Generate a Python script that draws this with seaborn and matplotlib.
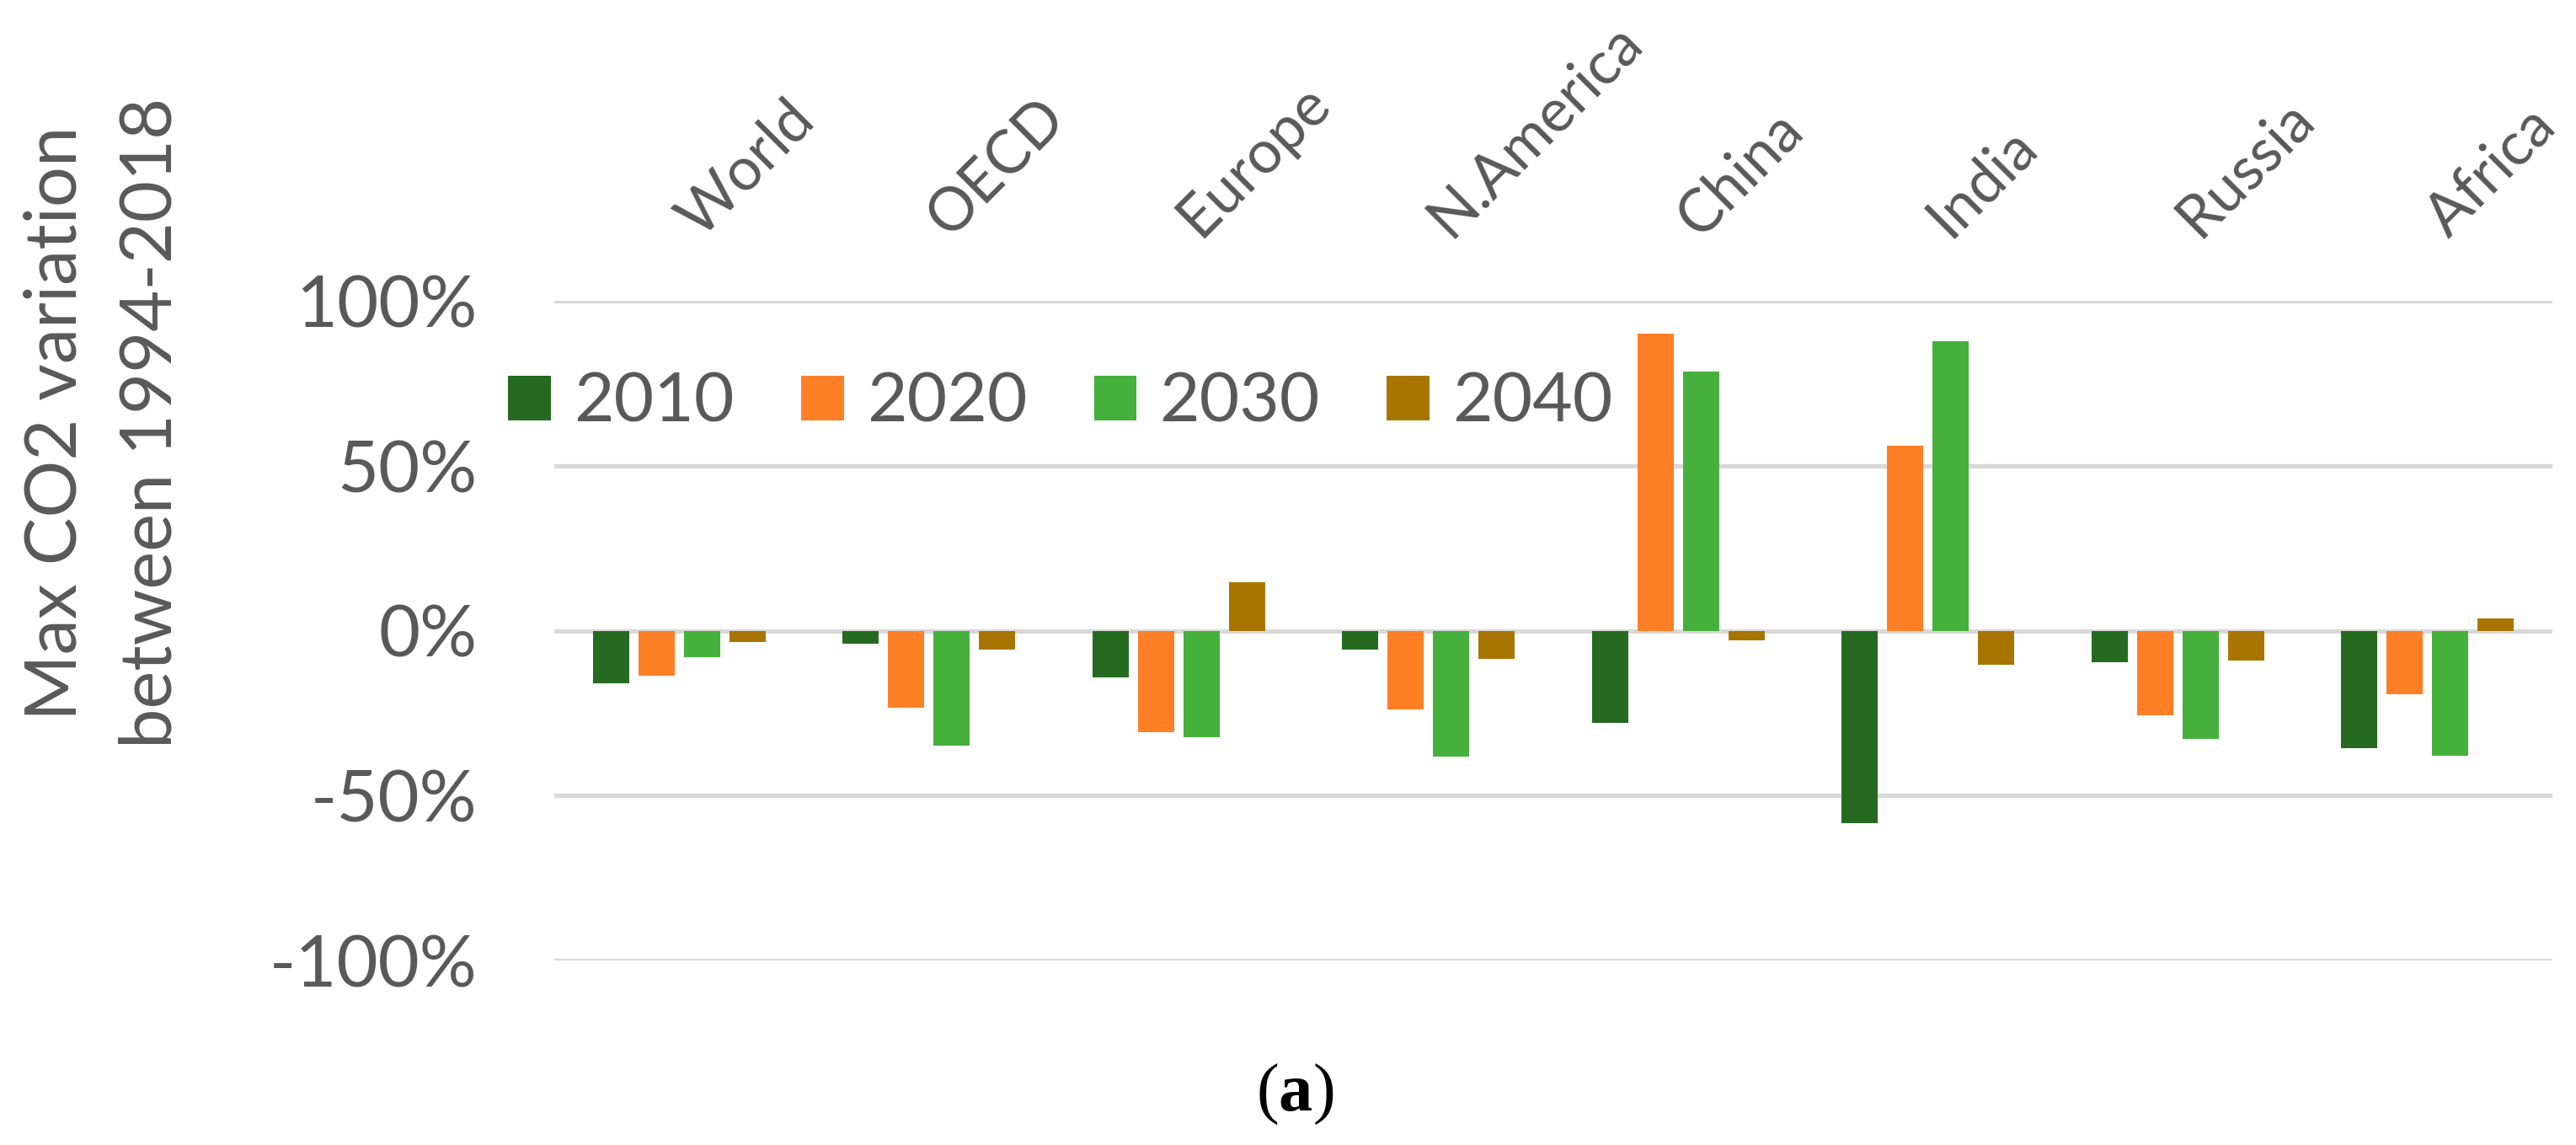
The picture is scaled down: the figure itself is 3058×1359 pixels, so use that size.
import pandas as pd
import seaborn as sns
import matplotlib.pyplot as plt

# data (fraction of 1994-2018 variation)
regions = ['World', 'OECD', 'Europe', 'N.America', 'China', 'India', 'Russia', 'Africa']
years = ['2010', '2020', '2030', '2040']
v2010 = [-0.160, -0.040, -0.143, -0.057, -0.280, -0.584, -0.097, -0.357]
v2020 = [-0.137, -0.234, -0.308, -0.240, 0.900, 0.560, -0.257, -0.194]
v2030 = [-0.080, -0.348, -0.322, -0.382, 0.785, 0.878, -0.328, -0.379]
v2040 = [-0.034, -0.057, 0.148, -0.086, -0.029, -0.103, -0.091, 0.037]
yticks = [-1.0, -0.5, 0.0, 0.5, 1.0]
ytick_labels = ['-100%', '-50%', '0%', '50%', '100%']
colors = ['#266A22', '#FF7F27', '#46B03C', '#A87600']

rows = []
for yr, vals in zip(years, [v2010, v2020, v2030, v2040]):
    for r, v in zip(regions, vals):
        rows.append({'region': r, 'year': yr, 'value': v})
df = pd.DataFrame(rows)

sns.set_theme(style='white')
plt.rcParams['font.family'] = ['Lato', 'DejaVu Sans']
plt.rcParams['mathtext.fontset'] = 'custom'
plt.rcParams['mathtext.rm'] = 'Liberation Serif'
plt.rcParams['mathtext.bf'] = 'Liberation Serif:bold'
grey = '#595959'

W, H = 3058, 1359
fig = plt.figure(figsize=(W / 100, H / 100), dpi=100)
ax = fig.add_axes([658 / W, 1 - 1140 / H, (3030 - 658) / W, (1140 - 357) / H])

sns.barplot(data=df, x='region', y='value', hue='year', order=regions,
            hue_order=years, palette=colors, saturation=1, errorbar=None,
            width=0.728, gap=0.2, linewidth=0, ax=ax, zorder=3)

ax.set_ylim(-1, 1)
ax.set_yticks(yticks)
ax.set_yticklabels(ytick_labels)
ax.tick_params(axis='y', length=0, pad=66, labelsize=61, labelcolor=grey)
ax.tick_params(axis='x', length=0, labelbottom=False)
ax.set_xlabel('')
ax.set_ylabel('')
for s in ax.spines.values():
    s.set_visible(False)
ax.set_axisbelow(True)
ax.grid(axis='y', color='#D9D9D9', linewidth=3.8)
ax.grid(axis='x', visible=False)

# rotated category labels above the plot
for i, r in enumerate(regions):
    ax.annotate(r, xy=(i, 1), xycoords=('data', 'axes fraction'),
                xytext=(18, 53), textcoords='offset points',
                rotation=45, rotation_mode='anchor', ha='left', va='baseline',
                fontsize=51, color=grey, annotation_clip=False)

# legend
h, l = ax.get_legend_handles_labels()
ax.get_legend().remove()
fig.legend(h, l, loc='center left', bbox_to_anchor=(603 / W, 1 - 478 / H),
           ncol=4, frameon=False, fontsize=59, labelcolor=grey,
           handlelength=0.62, handleheight=0.62, handletextpad=0.33,
           columnspacing=0.97, borderpad=0, borderaxespad=0)

# y axis title (two lines)
fig.text(91 / W, 1 - 502 / H, 'Max CO2 variation', rotation=90,
         rotation_mode='anchor', ha='center', va='baseline', fontsize=61, color=grey)
fig.text(204 / W, 1 - 502 / H, 'between 1994-2018', rotation=90,
         rotation_mode='anchor', ha='center', va='baseline', fontsize=61, color=grey)

fig.text(1537 / W, 1 - 1318 / H, r'($\mathbf{a}$)', ha='center', va='baseline',
         fontsize=58, family='Liberation Serif', color='black')

fig.savefig('out.png', dpi=100)
